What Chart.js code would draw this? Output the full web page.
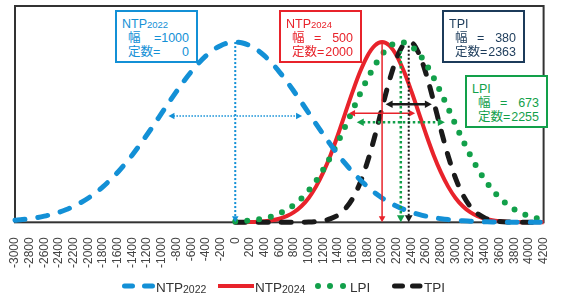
<!DOCTYPE html>
<html>
<head>
<meta charset="utf-8">
<script src="https://cdn.jsdelivr.net/npm/chart.js@4.4.1/dist/chart.umd.min.js"></script>
<style>
  body { margin: 0; background: #fff; font-family: "Liberation Sans", "Noto Sans CJK JP", sans-serif; }
  #wrap { position: relative; width: 573px; height: 296px; overflow: hidden; }
  #chart { position: absolute; left: 0; top: 0; }
  .box { position: absolute; width: 79px; height: 49px; border: 2px solid; background: #fff; font-size: 12.5px; }
  .box .r { position: absolute; left: 0; right: 0; height: 14px; line-height: 14px; white-space: nowrap; }
  .box .r1 { top: 5px; } .box .r2 { top: 19px; } .box .r3 { top: 33px; }
  .box .t { position: absolute; left: 5px; }
  .box .k { position: absolute; left: 11px; }
  .box .e { position: absolute; left: 33px; }
  .box .v { position: absolute; right: 7px; }
  .s { font-size: 9.5px; }
  .lg { position: absolute; top: 278px; height: 16px; display: flex; align-items: center; font-size: 13.5px; color: #333; }
  .lg .s { font-size: 10.5px; }
  .lg span { position: relative; top: 1px; }
</style>
</head>
<body>
<div id="wrap">
  <canvas id="chart" width="573" height="296"></canvas>

  <div class="box" style="left:115px;top:10px;border-color:#1390d6;color:#1390d6">
    <div class="r r1"><span class="t">NTP<span class="s">2022</span></span></div>
    <div class="r r2"><span class="k">幅</span><span class="v">=1000</span></div>
    <div class="r r3"><span class="k">定数=</span><span class="v">0</span></div>
  </div>
  <div class="box" style="left:279px;top:10px;border-color:#e8232b;color:#e8232b">
    <div class="r r1"><span class="t">NTP<span class="s">2024</span></span></div>
    <div class="r r2"><span class="k">幅</span><span class="e">=</span><span class="v">500</span></div>
    <div class="r r3"><span class="k">定数=</span><span class="v">2000</span></div>
  </div>
  <div class="box" style="left:442px;top:10px;border-color:#1c3b5a;color:#1c3b5a">
    <div class="r r1"><span class="t">TPI</span></div>
    <div class="r r2"><span class="k">幅</span><span class="e">=</span><span class="v">380</span></div>
    <div class="r r3"><span class="k">定数=</span><span class="v">2363</span></div>
  </div>
  <div class="box" style="left:465px;top:75px;border-color:#12a04a;color:#12a04a">
    <div class="r r1"><span class="t">LPI</span></div>
    <div class="r r2"><span class="k">幅</span><span class="e">=</span><span class="v">673</span></div>
    <div class="r r3"><span class="k">定数=</span><span class="v">2255</span></div>
  </div>

  <div class="lg" style="left:120px">
    <svg width="36" height="10"><line x1="4.5" y1="5" x2="32.5" y2="5" stroke="#1390d6" stroke-width="5" stroke-linecap="round" stroke-dasharray="8 12"/></svg>
    <span>NTP<span class="s">2022</span></span>
  </div>
  <div class="lg" style="left:217px">
    <svg width="38" height="10"><line x1="1" y1="5" x2="37" y2="5" stroke="#e8232b" stroke-width="4"/></svg>
    <span>NTP<span class="s">2024</span></span>
  </div>
  <div class="lg" style="left:314px">
    <svg width="35" height="10"><circle cx="4" cy="5" r="3" fill="#12a04a"/><circle cx="16" cy="5" r="3" fill="#12a04a"/><circle cx="29" cy="5" r="3" fill="#12a04a"/></svg>
    <span style="margin-left:1px">LPI</span>
  </div>
  <div class="lg" style="left:390px">
    <svg width="34" height="10"><line x1="4.5" y1="5" x2="30" y2="5" stroke="#1a1a1a" stroke-width="5" stroke-linecap="round" stroke-dasharray="8 10"/></svg>
    <span>TPI</span>
  </div>
</div>

<script>
// x positions of the sampled curves
const xsAll = [
  -3000,-2900,-2800,-2700,-2600,-2500,-2400,-2300,-2200,-2100,
  -2000,-1900,-1800,-1700,-1600,-1500,-1400,-1300,-1200,-1100,
  -1000,-900,-800,-700,-600,-500,-400,-300,-200,-100,
  0,100,200,300,400,500,600,700,800,900,
  1000,1100,1200,1300,1400,1500,1600,1700,1800,1900,
  2000,2100,2200,2300,2400,2500,2600,2700,2800,2900,
  3000,3100,3200,3300,3400,3500,3600,3700,3800,3900,
  4000,4100,4200
];
const xsRight = xsAll.slice(30); // 0 .. 4200

// NTP2022 (幅 1000, 定数 0)
const ntp2022 = [
  .011,.015,.020,.026,.034,.044,.056,.071,.089,.110,
  .135,.164,.198,.236,.278,.325,.375,.430,.487,.546,
  .607,.667,.726,.783,.835,.882,.923,.956,.980,.995,
  1.000,.995,.980,.956,.923,.882,.835,.783,.726,.667,
  .607,.546,.487,.430,.375,.325,.278,.236,.198,.164,
  .135,.110,.089,.071,.056,.044,.034,.026,.020,.015,
  .011,.008,.006,.004,.003,.002,.0015,.001,.0007,.0005,
  .0003,.0002,.0001
];
// NTP2024 (幅 500, 定数 2000)
const ntp2024 = [
  .0003,.0007,.0015,.003,.006,.011,.020,.034,.056,.089,
  .135,.198,.278,.375,.487,.607,.726,.835,.923,.980,
  1.000,.980,.923,.835,.726,.607,.487,.375,.278,.198,
  .135,.089,.056,.034,.020,.011,.006,.003,.0015,.0007,
  .0003,.0001,0
];
// LPI (幅 673, 定数 2255)
const lpi = [
  .004,.006,.010,.015,.022,.033,.049,.069,.097,.132,
  .176,.229,.293,.365,.446,.533,.623,.712,.796,.870,
  .931,.974,.997,.998,.977,.936,.877,.804,.720,.632,
  .542,.455,.373,.300,.235,.181,.136,.100,.072,.050,
  .035,.023,.015
];
// TPI (幅 380, 定数 2363)
const tpi = [
  0,0,0,0,0,0,0,0,.0002,.0006,
  .0016,.004,.009,.020,.040,.076,.133,.218,.334,.476,
  .634,.787,.912,.986,.995,.937,.823,.675,.516,.368,
  .245,.153,.088,.048,.024,.011,.005,.002,.0008,.0003,
  .0001,0,0
];

// centre lines and width arrows
const means = [0, 2000, 2255, 2363];
const halfSpans = [910, 450, 600, 315];
const arrowLevels = [0.59, 0.605, 0.555, 0.655];
const peakLevels = [1, 1, 0.95, 0.98];

const BLUE = '#1390d6', RED = '#e8232b', GREEN = '#12a04a', BLACK = '#1a1a1a';

const markerStyles = [
  { color: BLUE,  vDash: [2, 2],     vWidth: 2,   hDash: [1.5, 1.5], hWidth: 1.5, head: 6 },
  { color: RED,   vDash: [],         vWidth: 1.5, hDash: [],         hWidth: 1.5, head: 6 },
  { color: GREEN, vDash: [2.5, 2.5], vWidth: 2.5, hDash: [2.5, 2.5], hWidth: 2.5, head: 7 },
  { color: BLACK, vDash: [2, 2],     vWidth: 2,   hDash: [],         hWidth: 2.5, head: 7 }
];

const pts = (xs, ys) => xs.map((x, i) => ({ x, y: ys[i] }));

function seg(ctx, x1, y1, x2, y2, color, width, dash) {
  ctx.save();
  ctx.strokeStyle = color;
  ctx.lineWidth = width;
  ctx.setLineDash(dash);
  ctx.beginPath();
  ctx.moveTo(x1, y1);
  ctx.lineTo(x2, y2);
  ctx.stroke();
  ctx.restore();
}

function head(ctx, tx, ty, dx, dy, size, color) {
  const w = size * 0.55;
  ctx.save();
  ctx.fillStyle = color;
  ctx.beginPath();
  ctx.moveTo(tx, ty);
  ctx.lineTo(tx - dx * size - dy * w, ty - dy * size - dx * w);
  ctx.lineTo(tx - dx * size + dy * w, ty - dy * size + dx * w);
  ctx.closePath();
  ctx.fill();
  ctx.restore();
}

const markers = {
  id: 'markers',
  beforeDatasetsDraw(chart) {
    const { ctx, chartArea: a } = chart;
    ctx.save();
    ctx.strokeStyle = '#333';
    ctx.lineWidth = 2;
    ctx.strokeRect(a.left, a.top, a.right - a.left, a.bottom - a.top);
    ctx.restore();
  },
  afterDatasetsDraw(chart) {
    const { ctx, scales: { x, y } } = chart;
    markerStyles.forEach((s, i) => {
      const cx = x.getPixelForValue(means[i]);
      const top = y.getPixelForValue(peakLevels[i]);
      const bot = y.getPixelForValue(0);
      seg(ctx, cx, top, cx, bot - s.head + 1, s.color, s.vWidth, s.vDash);
      head(ctx, cx, bot, 0, 1, s.head, s.color);

      const ay = y.getPixelForValue(arrowLevels[i]);
      const xl = x.getPixelForValue(means[i] - halfSpans[i]);
      const xr = x.getPixelForValue(means[i] + halfSpans[i]);
      seg(ctx, xl + s.head - 1, ay, xr - s.head + 1, ay, s.color, s.hWidth, s.hDash);
      head(ctx, xl, ay, -1, 0, s.head, s.color);
      head(ctx, xr, ay, 1, 0, s.head, s.color);
    });
  }
};

const curve = { pointRadius: 0, fill: false, cubicInterpolationMode: 'monotone', clip: false };

new Chart(document.getElementById('chart'), {
  type: 'line',
  data: {
    datasets: [
      { ...curve, label: 'NTP2022', data: pts(xsAll, ntp2022), borderColor: BLUE, borderWidth: 5,
        borderDash: [10, 13], borderCapStyle: 'round', order: 0 },
      { ...curve, label: 'NTP2024', data: pts(xsRight, ntp2024), borderColor: RED, borderWidth: 4, order: 3 },
      { ...curve, label: 'LPI', data: pts(xsRight, lpi), borderColor: GREEN, borderWidth: 6,
        borderDash: [0, 12], borderCapStyle: 'round', order: 1 },
      { ...curve, label: 'TPI', data: pts(xsRight, tpi), borderColor: BLACK, borderWidth: 5,
        borderDash: [10, 13], borderCapStyle: 'round', order: 2 }
    ]
  },
  options: {
    responsive: false,
    animation: false,
    layout: { padding: { left: 14, right: 19, top: 6, bottom: 13 } },
    plugins: { legend: { display: false }, tooltip: { enabled: false } },
    scales: {
      x: {
        type: 'linear', min: -3000, max: 4200,
        grid: { display: false, drawTicks: false },
        border: { display: false },
        ticks: {
          stepSize: 200, autoSkip: false, minRotation: 90, maxRotation: 90, padding: 15,
          color: '#444', font: { family: 'Liberation Sans', size: 12 },
          callback: v => String(v)
        }
      },
      y: { display: false, min: 0, max: 1.2 }
    }
  },
  plugins: [markers]
});
</script>
</body>
</html>
